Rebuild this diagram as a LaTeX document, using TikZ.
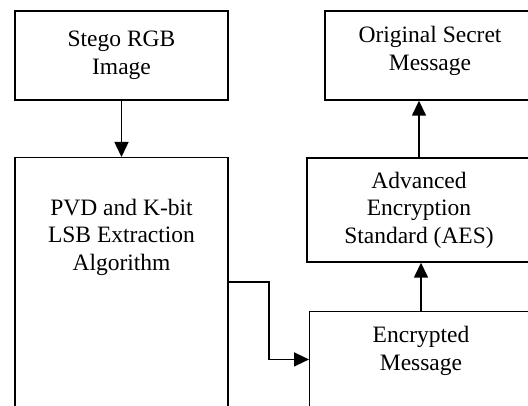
\documentclass[tikz,border=0pt]{standalone}
\usepackage{fontspec}
\setmainfont{Liberation Serif}
\usetikzlibrary{arrows.meta}
\begin{document}
\begin{tikzpicture}[x=1pt,y=-1pt,
  box/.style={draw=black, line width=1.4pt, rectangle, inner sep=0pt},
  lbl/.style={align=center, inner sep=0pt, font=\fontsize{23.5}{27.5}\selectfont},
  arr/.style={line width=1.5pt, -{Triangle[length=15pt,width=14pt]}}]
\useasboundingbox (0,0) rectangle (528,406);
\clip (0,0) rectangle (528,406);
\fill[white] (0,0) rectangle (528,406);
% boxes
\node[box, lbl, minimum width=213pt, minimum height=89pt] (stego) at (121.5,55.5) {Stego RGB\\Image};
\node[box, minimum width=213pt, minimum height=249.5pt, anchor=north] (pvd) at (121.5,157) {};
\node[lbl] (pvdtext) at (121.5,237) {PVD and K-bit\\LSB Extraction\\Algorithm};
\node[box, minimum width=224pt, minimum height=95.5pt, anchor=north west] (enc) at (309,311) {};
\node[lbl] (enctext) at (421,351) {Encrypted\\Message};
\node[box, lbl, minimum width=224pt, minimum height=104pt] (aes) at (419,210) {Advanced\\Encryption\\Standard (AES)};
\node[box, minimum width=210pt, minimum height=89pt] (orig) at (430,55.5) {};
\node[lbl] (origtext) at (430,51) {Original Secret\\Message};
% connectors
\coordinate (bend) at (269,0);
\draw[arr] (stego.south) -- (pvd.north);
\draw[arr] ([yshift=-125pt]pvd.north east) -| (bend |- enc.west) -- (enc.west);
\draw[arr] (enc.north -| 421,0) -- (aes.south -| 421,0);
\draw[arr] (aes.north) -- (aes.north |- orig.south);
\end{tikzpicture}
\end{document}
